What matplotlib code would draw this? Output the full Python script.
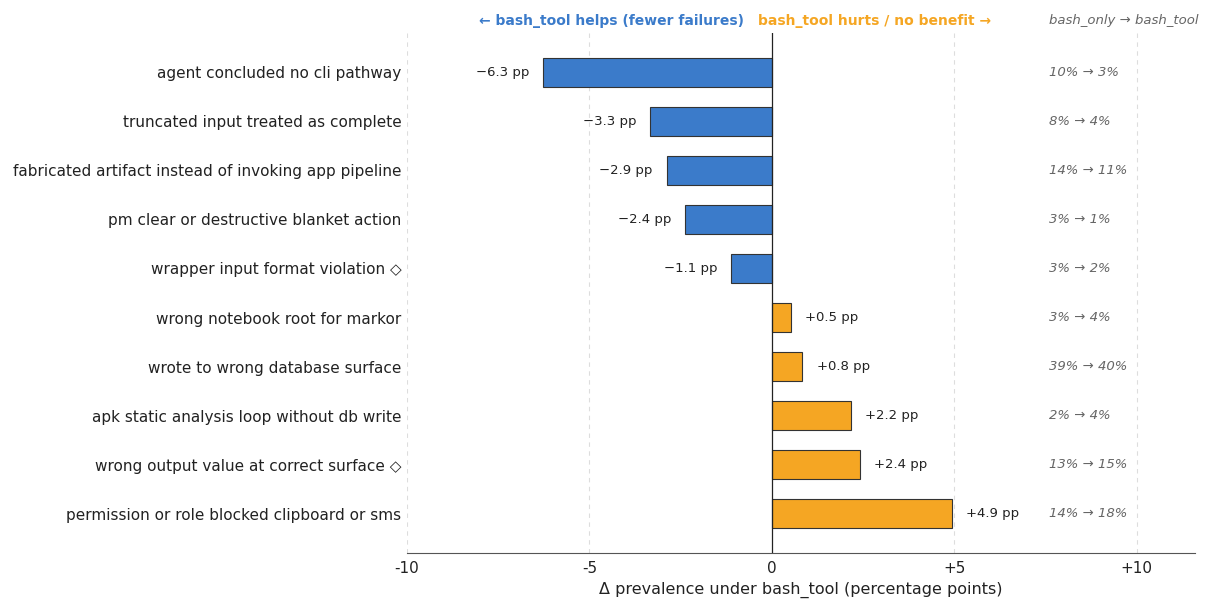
import matplotlib
matplotlib.use("Agg")
import matplotlib.pyplot as plt

categories = [
    "agent concluded no cli pathway",
    "truncated input treated as complete",
    "fabricated artifact instead of invoking app pipeline",
    "pm clear or destructive blanket action",
    "wrapper input format violation \u25c7",
    "wrong notebook root for markor",
    "wrote to wrong database surface",
    "apk static analysis loop without db write",
    "wrong output value at correct surface \u25c7",
    "permission or role blocked clipboard or sms",
]
delta_pp = [-6.27, -3.34, -2.88, -2.38, -1.12, 0.52, 0.84, 2.16, 2.41, 4.93]
bash_only = [10, 8, 14, 3, 3, 3, 39, 2, 13, 14]
bash_tool = [3, 4, 11, 1, 2, 4, 40, 4, 15, 18]
xticks = [-10, -5, 0, 5, 10]
xtick_labels = ["-10", "-5", "0", "+5", "+10"]

BLUE = "#3b7bca"
ORANGE = "#f5a623"

fig = plt.figure(figsize=(12.09, 5.99), dpi=100)
ax = fig.add_axes([0.3366, 0.0768, 0.6518, 0.8681])

ys = list(range(len(categories)))
colors = [BLUE if v < 0 else ORANGE for v in delta_pp]
ax.barh(ys, delta_pp, height=0.6, color=colors, edgecolor="#333333", linewidth=0.8, zorder=3)
ax.axvline(0, color="#222222", linewidth=0.9, zorder=4)

for y, v in zip(ys, delta_pp):
    lab = f"{v:+.1f} pp".replace("-", "\u2212")
    if v < 0:
        ax.text(v - 0.38, y, lab, ha="right", va="center", fontsize=9.5, color="#222222")
    else:
        ax.text(v + 0.4, y, lab, ha="left", va="center", fontsize=9.5, color="#222222")

for y, a, b in zip(ys, bash_only, bash_tool):
    ax.text(7.6, y, f"{a}% \u2192 {b}%", ha="left", va="center", fontsize=9.5,
            style="italic", color="#666666")

ax.text(7.6, -1.05, "bash_only \u2192 bash_tool", ha="left", va="center", fontsize=9.5,
        style="italic", color="#666666")
ax.text(-0.75, -1.05, "\u2190 bash_tool helps (fewer failures)", ha="right", va="center",
        fontsize=10, fontweight="bold", color=BLUE)
ax.text(-0.38, -1.05, "bash_tool hurts / no benefit \u2192", ha="left", va="center",
        fontsize=10, fontweight="bold", color=ORANGE)

ax.set_yticks(ys)
ax.set_yticklabels(categories, fontsize=11, color="#222222")
ax.set_ylim(len(categories) - 0.2, -0.8)
ax.set_xlim(-10, 11.6)
ax.set_xticks(xticks)
ax.set_xticklabels(xtick_labels, fontsize=11, color="#222222")
ax.tick_params(axis="x", length=0, pad=6)
ax.tick_params(axis="y", length=0, pad=4)
ax.set_xlabel("\u0394 prevalence under bash_tool (percentage points)", fontsize=11.5,
              color="#222222", labelpad=4)

for gx in [-10, -5, 5, 10]:
    ax.axvline(gx, color="#dddddd", linestyle=(0, (4, 4)), linewidth=0.8, zorder=0)

for s in ["top", "right", "left"]:
    ax.spines[s].set_visible(False)
ax.spines["bottom"].set_color("#555555")

fig.savefig("out.png", dpi=100, facecolor="white")
